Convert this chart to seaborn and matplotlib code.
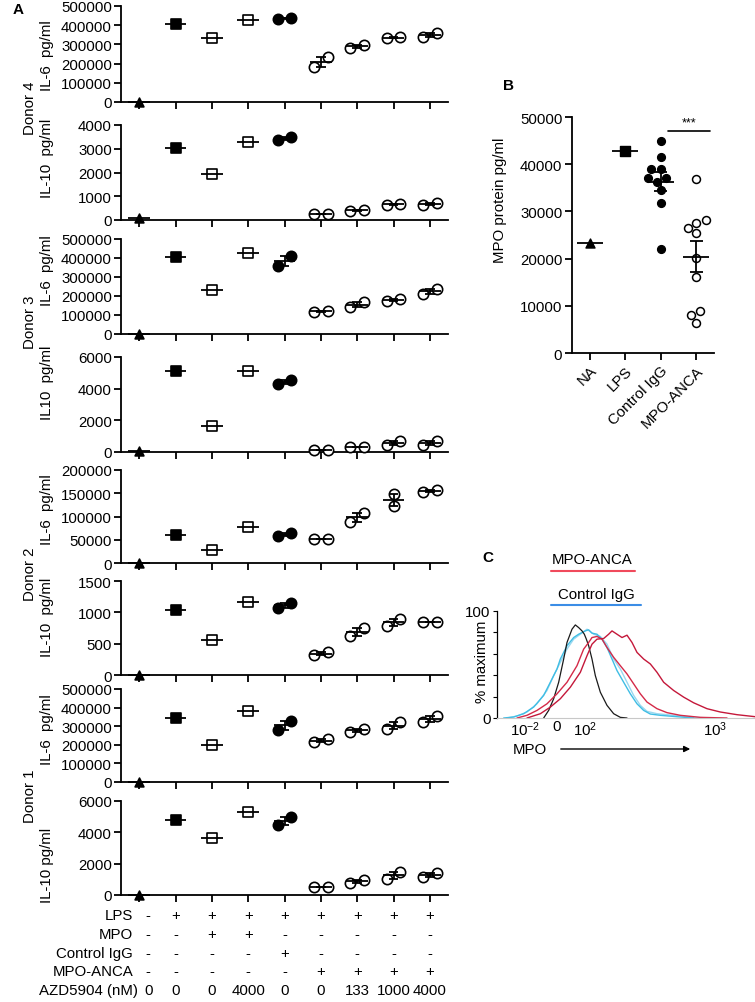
import numpy as np
import pandas as pd
import matplotlib
matplotlib.use("Agg")
import matplotlib.pyplot as plt
import seaborn as sns

W, H = 755, 1003

# ---------------- panel A data: 9 conditions, replicates per condition ----------------
a_markers = ['^', 's', 's', 's', 'o', 'o', 'o', 'o', 'o']
a_filled = [True, True, False, False, True, False, False, False, False]

d4_il6 = [[0], [405000], [332000], [426000], [433000, 437000], [184000, 233000],
          [281000, 299000], [333000, 338000], [337000, 358000]]
d4_il10 = [[80], [3030], [1950], [3300], [3350, 3480], [240, 245], [380, 430],
           [650, 665], [620, 730]]
d3_il6 = [[0], [405000], [233000], [425000], [358000, 411000], [118000, 120000],
          [141000, 167000], [176000, 185000], [211000, 238000]]
d3_il10 = [[70], [5100], [1650], [5120], [4270, 4530], [150, 155], [300, 320],
           [420, 690], [430, 680]]
d2_il6 = [[0], [60000], [27000], [77000], [57000, 65500], [51000, 51500],
          [89000, 108500], [123000, 148000], [153000, 157000]]
d2_il10 = [[0], [1040], [562], [1172], [1076, 1156], [323, 360], [615, 748],
           [780, 900], [846, 850]]
d1_il6 = [[0], [343000], [200000], [384000], [282000, 327000], [214000, 232000],
          [271000, 286000], [286000, 321000], [321000, 357000]]
d1_il10 = [[0], [4800], [3620], [5300], [4470, 5000], [505, 515], [790, 935],
           [1040, 1490], [1150, 1425]]

il6_ticks = [0, 100000, 200000, 300000, 400000, 500000]
a_panels = [
    ("IL-6  pg/ml", d4_il6, il6_ticks),
    ("IL-10  pg/ml", d4_il10, [0, 1000, 2000, 3000, 4000]),
    ("IL-6  pg/ml", d3_il6, il6_ticks),
    ("IL10  pg/ml", d3_il10, [0, 2000, 4000, 6000]),
    ("IL-6  pg/ml", d2_il6, [0, 50000, 100000, 150000, 200000]),
    ("IL-10  pg/ml", d2_il10, [0, 500, 1000, 1500]),
    ("IL-6  pg/ml", d1_il6, il6_ticks),
    ("IL-10 pg/ml", d1_il10, [0, 2000, 4000, 6000]),
]
donors = ["Donor 4", "Donor 3", "Donor 2", "Donor 1"]

row_names = ["LPS", "MPO", "Control IgG", "MPO-ANCA", "AZD5904 (nM)"]
row_lps = ['-', '+', '+', '+', '+', '+', '+', '+', '+']
row_mpo = ['-', '-', '+', '+', '-', '-', '-', '-', '-']
row_igg = ['-', '-', '-', '-', '+', '-', '-', '-', '-']
row_anca = ['-', '-', '-', '-', '-', '+', '+', '+', '+']
row_azd = ['0', '0', '0', '4000', '0', '0', '133', '1000', '4000']

# ---------------- panel B data ----------------
b_cats = ["NA", "LPS", "Control IgG", "MPO-ANCA"]
b_na = [23300]
b_lps = [42700]
b_igg = [45000, 41500, 39000, 38900, 37000, 37000, 36300, 34500, 31700, 22000]
b_anca = [36970, 28200, 27600, 26400, 25400, 20100, 16200, 8900, 8000, 6300]

# ---------------- panel C data (channel, % maximum) ----------------
black_x = [250, 265, 280, 295, 310, 320, 335, 345, 355, 365, 372, 378, 385, 395, 405,
           420, 440, 460, 480, 500]
black_y = [0, 7.1, 18.0, 33.4, 55.1, 70.6, 83.0, 87.0, 84.5, 81.4, 78.3, 73.7, 67.5,
           55.1, 39.6, 24.1, 11.8, 4.0, 0.6, 0]
cyan1_x = [130, 160, 190, 220, 250, 270, 290, 300, 320, 340, 355, 375, 385, 395, 410,
           425, 440, 455, 470, 490, 510, 530, 550, 570, 600, 650, 700]
cyan1_y = [0, 0.9, 4.0, 10.2, 21.1, 33.4, 45.8, 55.1, 67.5, 75.2, 78.3, 81.4, 82.4,
           79.3, 78.3, 73.7, 65.9, 55.1, 44.3, 33.4, 22.6, 13.3, 7.1, 3.7, 2.5, 1.2, 0]
cyan2_x = [140, 170, 200, 230, 260, 280, 300, 320, 340, 360, 380, 400, 420, 440, 460,
           480, 500, 520, 540, 560, 590, 640, 700, 760]
cyan2_y = [0, 1.9, 5.6, 13.3, 25.7, 39.6, 52.0, 64.4, 73.7, 78.3, 83.0, 78.3, 76.2,
           69.0, 55.1, 45.8, 33.4, 21.1, 11.8, 6.2, 4.0, 2.5, 0.6, 0]
red1_x = [170, 200, 230, 260, 290, 320, 350, 370, 385, 395, 410, 425, 440, 460, 480,
          500, 520, 540, 560, 590, 620, 660, 720, 800]
red1_y = [0, 2.5, 7.1, 13.3, 22.6, 33.4, 48.9, 64.4, 70.6, 75.2, 76.2, 73.7, 65.9,
          56.7, 48.9, 41.2, 31.9, 22.6, 14.9, 8.7, 5.0, 2.5, 0.6, 0]
red2_x = [200, 240, 270, 300, 330, 360, 380, 395, 410, 430, 445, 455, 470, 485, 500,
          515, 530, 550, 570, 590, 610, 640, 670, 700, 740, 780, 830, 885]
red2_y = [0, 4.0, 10.2, 18.0, 28.8, 42.7, 58.2, 69.0, 73.7, 74.3, 78.3, 81.4, 78.3,
          75.2, 77.4, 70.6, 61.3, 55.1, 50.5, 42.7, 33.4, 25.7, 19.5, 14.2, 8.7, 5.6,
          3.1, 1.2]
c_ticks = [195, 290, 375, 765]
c_ticklabels = [r"$10^{-2}$", "0", r"$10^{2}$", r"$10^{3}$"]

# ---------------- style ----------------
sns.set_style("ticks", {"axes.edgecolor": "black", "xtick.color": "black",
                        "ytick.color": "black", "text.color": "black",
                        "axes.labelcolor": "black"})
plt.rcParams["font.family"] = ["Liberation Sans", "DejaVu Sans"]
plt.rcParams["mathtext.fontset"] = "custom"
plt.rcParams["mathtext.rm"] = "Liberation Sans"
plt.rcParams["mathtext.it"] = "Liberation Sans:italic"
plt.rcParams["mathtext.bf"] = "Liberation Sans:bold"
FS = 10.8

fig = plt.figure(figsize=(W / 100, H / 100), dpi=100)


def px_axes(l, t, r, b):
    return fig.add_axes([l / W, 1 - b / H, (r - l) / W, (b - t) / H])


def fx(px):
    return px / W


def fy(py):
    return 1 - py / H


def mean_sem(ax, x, vals, half=0.3, cap=0.13):
    vals = np.asarray(vals, float)
    m = vals.mean()
    ax.hlines(m, x - half, x + half, color="black", lw=1.3, zorder=4, clip_on=False)
    if len(vals) > 1:
        sem = vals.std(ddof=1) / np.sqrt(len(vals))
        ax.vlines(x, m - sem, m + sem, color="black", lw=1.3, zorder=4)
        ax.hlines([m - sem, m + sem], x - cap, x + cap, color="black", lw=1.3, zorder=4)


# ---------------- panel A ----------------
tops = [7, 126, 240, 358, 471, 582, 690, 802]
bottoms = [103, 221, 335, 453, 564, 676, 783, 896]
label_y = [56, 158, 271, 383, 510, 617, 730, 865]
axes_a = []
for k, (ylab, groups, yt) in enumerate(a_panels):
    ax = px_axes(121, tops[k], 448, bottoms[k])
    ymax = yt[-1]
    for i, vals in enumerate(groups):
        vals = np.asarray(vals, float)
        if len(vals) == 2 and abs(vals[0] - vals[1]) < 0.11 * ymax:
            xs = i + np.array([-0.19, 0.19])
        else:
            xs = np.full(len(vals), float(i))
        size = 55 if a_markers[i] == 'o' else (52 if a_markers[i] == 's' else 40)
        sns.scatterplot(x=xs, y=vals, marker=a_markers[i], s=size,
                        color="black" if a_filled[i] else "white",
                        edgecolor="black", linewidth=1.2, ax=ax,
                        clip_on=False, zorder=3, legend=False)
        mean_sem(ax, i, vals)
    ax.set_xlim(-0.5, 8.5)
    ax.set_ylim(0, ymax)
    ax.set_yticks(yt)
    ax.set_yticklabels([str(t) for t in yt])
    ax.set_xticks(range(9))
    ax.set_xticklabels([])
    sns.despine(ax=ax)
    for s in ["left", "bottom"]:
        ax.spines[s].set_linewidth(1.3)
    ax.tick_params(length=5, width=1.3, pad=1.5, labelsize=FS)
    fig.text(fx(47), fy(label_y[k]), ylab, rotation=90, ha="center", va="center",
             fontsize=FS)
    axes_a.append(ax)

for name, yc in zip(donors, [108, 322, 574, 796]):
    fig.text(fx(30), fy(yc), name, rotation=90, ha="center", va="center", fontsize=FS)

# condition table
bax = axes_a[-1]
trans = matplotlib.transforms.blended_transform_factory(bax.transData, fig.transFigure)
rows = [row_lps, row_mpo, row_igg, row_anca, row_azd]
row_y = [916, 935, 954, 972, 991]
for name, vals, yy in zip(row_names, rows, row_y):
    fig.text(fx(133 if name != "AZD5904 (nM)" else 138), fy(yy), name, ha="right",
             va="center", fontsize=FS)
    for i, v in enumerate(vals):
        xx = i + (0.25 if i == 0 else 0)
        fig.text(xx, fy(yy), v, transform=trans, ha="center", va="center", fontsize=FS)

fig.text(fx(18), fy(10), "A", fontsize=11, fontweight="bold", ha="center", va="center")

# ---------------- panel B ----------------
axb = px_axes(572, 118, 714, 354)
dfb = pd.DataFrame({"group": ["NA"] * len(b_na) + ["LPS"] * len(b_lps)
                    + ["Control IgG"] * len(b_igg) + ["MPO-ANCA"] * len(b_anca),
                    "mpo": b_na + b_lps + b_igg + b_anca})
b_style = {"NA": ('^', 'black', 6.5, 1.0), "LPS": ('s', 'black', 6.5, 1.0),
           "Control IgG": ('o', 'black', 5.6, 1.0), "MPO-ANCA": ('o', 'white', 5.7, 1.1)}
for g, (mk, col, sz, lw) in b_style.items():
    sns.swarmplot(data=dfb[dfb.group == g], x="group", y="mpo", order=b_cats,
                  marker=mk, color=col, edgecolor="black", linewidth=lw,
                  size=sz, ax=axb, zorder=3, clip_on=False)
for i, g in enumerate(b_cats):
    vals = dfb.loc[dfb.group == g, "mpo"].values
    mean_sem(axb, i, vals, half=0.36, cap=0.19)
axb.set_xlim(-0.5, 3.5)
axb.set_ylim(0, 50000)
axb.set_yticks(range(0, 50001, 10000))
axb.set_yticklabels([str(t) for t in range(0, 50001, 10000)])
axb.set_xticks(range(4))
axb.set_xticklabels(b_cats, rotation=45, ha="right", rotation_mode="anchor")
axb.set_xlabel("")
axb.set_ylabel("")
sns.despine(ax=axb)
for s in ["left", "bottom"]:
    axb.spines[s].set_linewidth(1.3)
axb.tick_params(length=5, width=1.3, pad=2, labelsize=FS)
axb.plot([2.2, 3.4], [47000, 47000], color="black", lw=1.2, clip_on=False)
axb.text(2.8, 48900, "***", ha="center", va="center", fontsize=9)
fig.text(fx(500), fy(200), "MPO protein pg/ml", rotation=90, ha="center",
         va="center", fontsize=FS)
fig.text(fx(509), fy(86), "B", fontsize=11, fontweight="bold", ha="center", va="center")

# ---------------- panel C ----------------
axc = px_axes(497, 612, 757, 719)
for xs, ys, col, lw in [(cyan2_x, cyan2_y, "#9ad8f0", 1.0), (cyan1_x, cyan1_y, "#3fbde4", 1.0),
                        (black_x, black_y, "#1a1a1a", 0.9), (red1_x, red1_y, "#d42a48", 1.0),
                        (red2_x, red2_y, "#c4183a", 1.0)]:
    sns.lineplot(x=xs, y=ys, color=col, lw=lw, ax=axc, sort=False)
axc.set_xlim(110, 890)
axc.set_ylim(0, 100)
axc.set_yticks([0, 20, 40, 60, 80, 100])
axc.set_yticklabels(["0", "", "", "", "", "100"])
axc.set_xticks(c_ticks)
axc.set_xticklabels(c_ticklabels)
sns.despine(ax=axc)
axc.spines["left"].set_linewidth(0.9)
axc.spines["bottom"].set_color("#c8c8c8")
axc.spines["bottom"].set_linewidth(0.8)
axc.tick_params(axis="y", length=3, width=0.8, pad=1.5, labelsize=FS)
axc.tick_params(axis="x", length=0, pad=1, labelsize=FS)
fig.text(fx(482), fy(662), "% maximum", rotation=90, ha="center", va="center",
         fontsize=FS)
fig.text(fx(530), fy(750), "MPO", ha="center", va="center", fontsize=FS)
axc.annotate("", xy=(fx(693), fy(750)), xytext=(fx(558), fy(750)),
             xycoords="figure fraction", textcoords="figure fraction",
             arrowprops=dict(arrowstyle="-|>", lw=1, color="black", mutation_scale=9),
             annotation_clip=False)
fig.text(fx(592), fy(560), "MPO-ANCA", ha="center", va="center", fontsize=FS)
fig.add_artist(plt.Line2D([fx(551), fx(635)], [fy(572), fy(572)], color="#f04a5c", lw=1.5))
fig.text(fx(596), fy(595), "Control IgG", ha="center", va="center", fontsize=FS)
fig.add_artist(plt.Line2D([fx(551), fx(641)], [fy(606), fy(606)], color="#3b8de6", lw=1.5))
fig.text(fx(488), fy(558), "C", fontsize=11, fontweight="bold", ha="center", va="center")

fig.savefig("out.png", dpi=100)
